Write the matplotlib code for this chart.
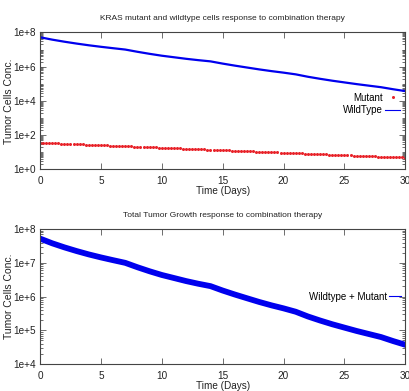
import numpy as np
import matplotlib
matplotlib.use('Agg')
import matplotlib.pyplot as plt
from matplotlib.ticker import LogLocator, FixedLocator, NullFormatter

plt.rcParams['font.family'] = ['Liberation Sans Narrow', 'Liberation Sans', 'DejaVu Sans']

# days (daily samples) and wildtype cell concentration
days = list(range(0, 31))
wildtype = [5.25e7, 3.80e7, 2.88e7, 2.24e7, 1.78e7, 1.45e7, 1.20e7, 1.00e7,
            7.41e6, 5.62e6, 4.37e6, 3.55e6, 2.88e6, 2.40e6, 2.04e6,
            1.51e6, 1.15e6, 8.91e5, 6.92e5, 5.50e5, 4.47e5, 3.55e5,
            2.57e5, 1.95e5, 1.51e5, 1.20e5, 9.55e4, 7.76e4, 6.31e4, 4.79e4, 3.72e4]

# mutant cells, sampled every quarter day
mutant_t = np.linspace(0, 30, 121)
mutant = [36.0, 35.40, 34.81, 34.23, 33.66, 33.10, 32.55, 32.01, 31.48, 30.96, 30.44, 29.93,
          29.44, 28.95, 28.47, 27.99, 27.53, 27.07, 26.62, 26.18, 25.74, 25.31, 24.89, 24.48,
          24.07, 23.67, 23.28, 22.89, 22.51, 22.14, 21.77, 21.41, 21.05, 20.70, 20.36, 20.02,
          19.68, 19.35, 19.03, 18.71, 18.41, 18.10, 17.80, 17.51, 17.21, 16.92, 16.64, 16.37,
          16.10, 15.83, 15.57, 15.31, 15.05, 14.80, 14.55, 14.31, 14.07, 13.84, 13.61, 13.38,
          13.16, 12.94, 12.73, 12.51, 12.31, 12.11, 11.90, 11.71, 11.51, 11.32, 11.13, 10.95,
          10.76, 10.58, 10.40, 10.23, 10.06, 9.89, 9.73, 9.57, 9.41, 9.25, 9.10, 8.95,
          8.80, 8.65, 8.51, 8.37, 8.23, 8.09, 7.96, 7.83, 7.70, 7.57, 7.45, 7.32,
          7.20, 7.08, 6.96, 6.85, 6.73, 6.62, 6.51, 6.40, 6.29, 6.19, 6.08, 5.98,
          5.88, 5.78, 5.69, 5.59, 5.50, 5.41, 5.32, 5.23, 5.15, 5.06, 4.98, 4.90, 4.81]

total = [w + m for w, m in zip(wildtype, mutant[::4])]

top_ticks = [1e0, 1e2, 1e4, 1e6, 1e8]
top_labels = ['1e+0', '1e+2', '1e+4', '1e+6', '1e+8']
bot_ticks = [1e4, 1e5, 1e6, 1e7, 1e8]
bot_labels = ['1e+4', '1e+5', '1e+6', '1e+7', '1e+8']
x_ticks = [0, 5, 10, 15, 20, 25, 30]

fig = plt.figure(figsize=(4.10, 3.91), dpi=100)
ax1 = fig.add_axes([0.0976, 0.567, 0.891, 0.350])
ax2 = fig.add_axes([0.0976, 0.069, 0.891, 0.345])


def style(ax, yticks, ylabels, ylim):
    ax.set_yscale('log')
    ax.set_xlim(0, 30)
    ax.set_ylim(*ylim)
    ax.set_xticks(x_ticks)
    ax.set_xticklabels([str(t) for t in x_ticks])
    ax.yaxis.set_major_locator(FixedLocator(yticks))
    ax.set_yticklabels(ylabels)
    ax.yaxis.set_minor_locator(LogLocator(base=10, subs=np.arange(1, 10) * 1.0, numticks=50))
    ax.yaxis.set_minor_formatter(NullFormatter())
    ax.tick_params(which='both', direction='in', top=True, right=True, labelsize=7.2,
                   width=0.6, color='#555555', labelcolor='#222222')
    ax.tick_params(which='major', length=4.5)
    ax.tick_params(axis='x', which='major', pad=5)
    ax.tick_params(axis='y', which='major', pad=3)
    ax.tick_params(which='minor', length=2)
    for s in ax.spines.values():
        s.set_linewidth(0.8)
        s.set_color('#444444')
    ax.set_xlabel('Time (Days)', fontsize=7.2, labelpad=0, color='#222222')
    ax.set_ylabel('Tumor Cells Conc.', fontsize=7.5,
                  family=['Liberation Sans', 'DejaVu Sans'], color='#222222')
    ax.yaxis.set_label_coords(-0.072, 0.5)


ax1.plot(mutant_t, mutant, linestyle='none', marker='o', markersize=2.2,
         markeredgewidth=0, color='#e8232a', label='Mutant')
ax1.plot(days, wildtype, color='#0000ee', linewidth=1.6, label='WildType')
style(ax1, top_ticks, top_labels, (1, 1e8))
ax1.set_title('KRAS mutant and wildtype cells response to combination therapy',
              fontsize=6.0, pad=9, color='#222222')
leg1 = ax1.legend(loc='upper right', bbox_to_anchor=(1.0, 0.595), frameon=False,
                  markerfirst=False, fontsize=7, handlelength=1.6, handletextpad=0.25,
                  labelspacing=0.25, borderaxespad=0.1)
leg1.get_lines()[1].set_linewidth(0.8)

ax2.plot(days, total, color='#0000ee', linewidth=4.2, label='Wildtype + Mutant')
style(ax2, bot_ticks, bot_labels, (1e4, 1e8))
ax2.set_title('Total Tumor Growth response to combination therapy',
              fontsize=6.0, pad=9, color='#222222')
leg2 = ax2.legend(loc='center right', bbox_to_anchor=(1.0, 0.5), frameon=False,
                  markerfirst=False, fontsize=7, handlelength=1.3, handletextpad=0.2,
                  borderaxespad=0.0)
leg2.get_lines()[0].set_linewidth(0.8)

fig.savefig('out.png', dpi=100)
